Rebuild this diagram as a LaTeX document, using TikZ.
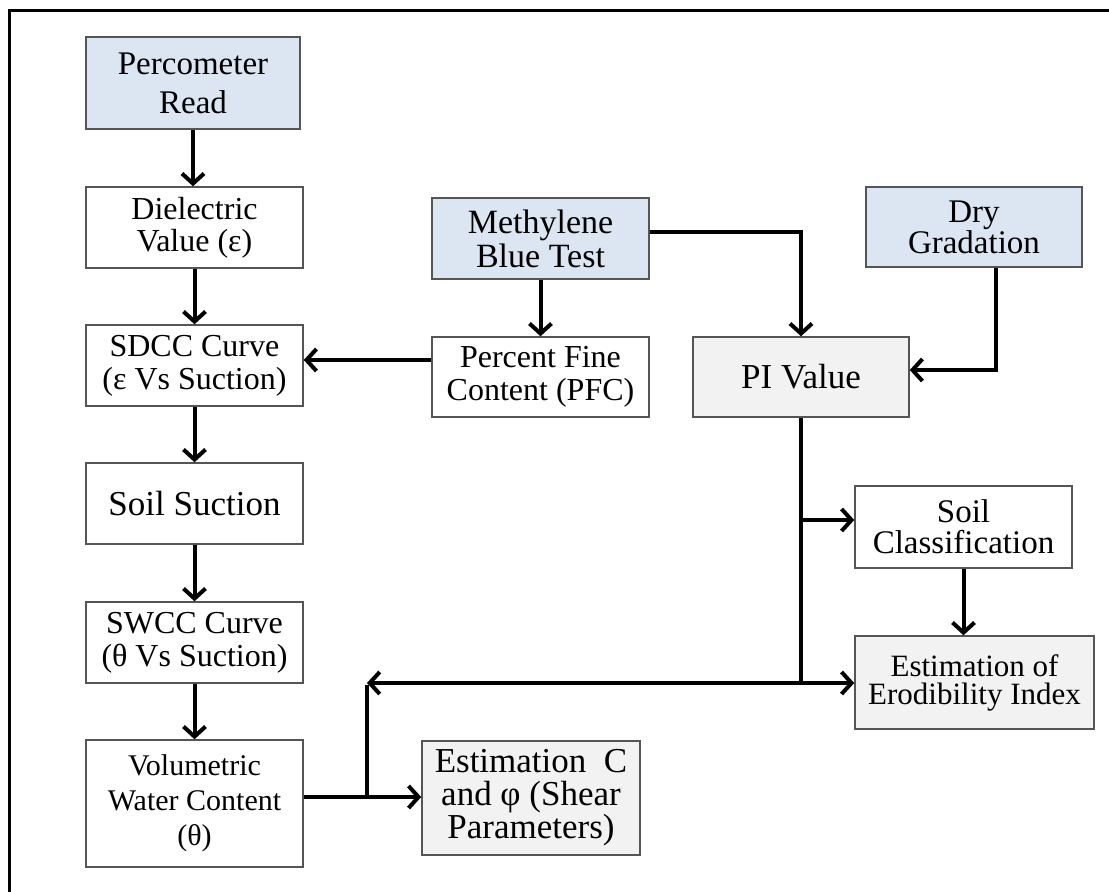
\documentclass[tikz,border=0pt]{standalone}
\usepackage{fontspec}
\setmainfont{Liberation Serif}
\usetikzlibrary{arrows.meta,calc}
\definecolor{bluefill}{HTML}{DCE6F2}
\definecolor{grayfill}{HTML}{F2F2F2}
\definecolor{boxline}{HTML}{555555}
\newcommand{\fs}[2]{\fontsize{#1}{#2}\selectfont}
\begin{document}
\begin{tikzpicture}[x=1pt,y=-1pt,
  box/.style={draw=boxline,line width=1.5pt,fill=white,rectangle,inner sep=0pt,align=center,text=black},
  bluebox/.style={box,fill=bluefill},
  graybox/.style={box,fill=grayfill},
  arr/.style={line width=4pt,-{Straight Barb[length=10pt,width=22pt]}},
  ln/.style={line width=4pt}]
\useasboundingbox (0,0) rectangle (1109,892);
\draw[line width=3pt] (9.5,900) -- (9.5,10.5) -- (1120,10.5);

\node[bluebox,minimum width=214pt,minimum height=92pt,font=\fs{33}{39}] (perc) at (193,83) {Percometer\\Read};
\node[box,minimum width=217pt,minimum height=81pt,font=\fs{32}{32}] (diel) at (194.5,227.5) {Dielectric\\Value (ε)};
\node[box,minimum width=217pt,minimum height=81pt,font=\fs{32}{33}] (sdcc) at (194.5,365.5) {SDCC Curve\\(ε Vs Suction)};
\node[box,minimum width=217pt,minimum height=81pt,font=\fs{35}{38}] (suct) at (194.5,503.5) {Soil Suction};
\node[box,minimum width=217pt,minimum height=81pt,font=\fs{32}{33}] (swcc) at (194.5,642.5) {SWCC Curve\\(θ Vs Suction)};
\node[box,minimum width=217pt,minimum height=127pt,font=\fs{30}{35}] (vol) at (194.5,803.5) {Volumetric\\Water Content\\(θ)};
\node[bluebox,minimum width=217pt,minimum height=81pt,font=\fs{34}{34}] (meth) at (540.5,238.5) {Methylene\\Blue Test};
\node[box,minimum width=217pt,minimum height=80pt,font=\fs{32}{33}] (pfc) at (540.5,377) {Percent Fine\\Content (PFC)};
\node[graybox,minimum width=216pt,minimum height=80pt,font=\fs{35}{40}] (pi) at (801,377) {PI Value};
\node[bluebox,minimum width=216pt,minimum height=80pt,font=\fs{33}{31}] (dry) at (974,227) {Dry\\Gradation};
\node[box,minimum width=217pt,minimum height=82pt,font=\fs{33}{31}] (scls) at (963.5,527) {Soil\\Classification};
\node[graybox,minimum width=239pt,minimum height=93pt,font=\fs{31}{28}] (ero) at (974.5,682.5) {Estimation of\\Erodibility Index};
\node[graybox,minimum width=218pt,minimum height=114pt,font=\fs{35}{33}] (estc) at (531,798) {Estimation~ C\\and φ (Shear\\Parameters)};

\coordinate (j2) at (801,683);
\coordinate (jl) at (367,683);
\coordinate (j3) at (367,797);
\coordinate (j1) at (801,520);

\draw[arr] (perc.south) -- (perc.south |- diel.north);
\draw[arr] (diel.south) -- (diel.south |- sdcc.north);
\draw[arr] (sdcc.south) -- (sdcc.south |- suct.north);
\draw[arr] (suct.south) -- (suct.south |- swcc.north);
\draw[arr] (swcc.south) -- (swcc.south |- vol.north);
\draw[arr] (meth.south) -- (meth.south |- pfc.north);
\draw[arr] ([yshift=17pt]pfc.west) -- ([yshift=17pt]pfc.west -| sdcc.east);
\draw[arr] ([yshift=6.5pt]meth.east) -| (pi.north);
\draw[arr] ([xshift=22pt]dry.south) |- ([yshift=7pt]pi.east);
\draw[ln] (pi.south) -- (j2);
\draw[arr] (j1) -- (j1 -| scls.west);
\draw[arr] (scls.south) -- (scls.south |- ero.north);
\draw[arr] (j2) -- (j2 -| ero.west);
\draw[arr] (j2) -- (jl);
\draw[arr] ([yshift=6.5pt]vol.east) -- ([yshift=6.5pt]vol.east -| estc.west);
\draw[ln] (j3) -- ([yshift=-2pt]jl);
\end{tikzpicture}
\end{document}
